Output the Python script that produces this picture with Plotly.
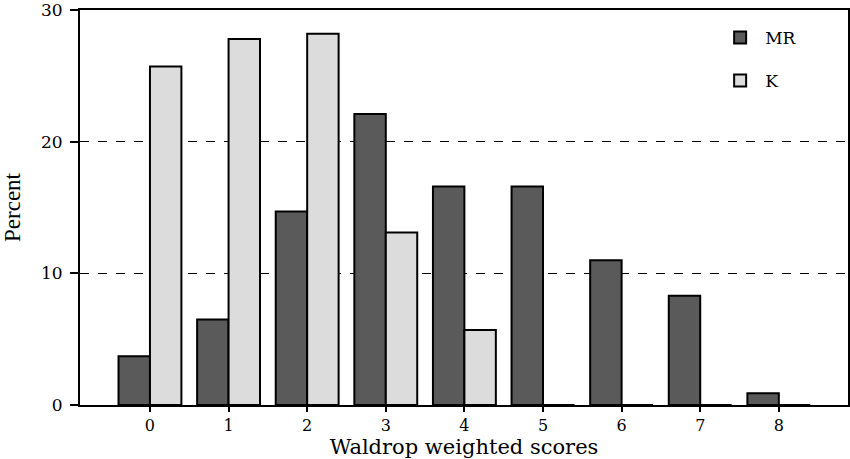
import plotly.graph_objects as go

categories = ["0", "1", "2", "3", "4", "5", "6", "7", "8"]
mr_values = [3.7, 6.5, 14.7, 22.1, 16.6, 16.6, 11.0, 8.3, 0.9]
k_values = [25.7, 27.8, 28.2, 13.1, 5.7, 0, 0, 0, 0]
y_ticks = [0, 10, 20, 30]

xs = list(range(len(categories)))
fig = go.Figure()
fig.add_trace(go.Bar(x=xs, y=mr_values, name="MR", legendgroup="mr",
                     marker=dict(color="#5a5a5a", line=dict(color="black", width=2))))
fig.add_trace(go.Bar(x=xs, y=k_values, name="K", legendgroup="k",
                     marker=dict(color="#dcdcdc", line=dict(color="black", width=2))))

serif = "Liberation Serif, Times New Roman, serif"
wide = "DejaVu Serif, serif"
fig.update_layout(
    width=850, height=459,
    margin=dict(l=80, r=2, t=10, b=54),
    plot_bgcolor="white", paper_bgcolor="white",
    barmode="group", bargap=0.2, bargroupgap=0,
    font=dict(family=wide, color="black", size=16),
    showlegend=True,
    legend=dict(x=0.827, y=0.975, xanchor="left", yanchor="top",
                font=dict(family=wide, size=17), bgcolor="rgba(0,0,0,0)",
                tracegroupgap=18, traceorder="grouped", itemwidth=40),
    xaxis=dict(range=[-0.89, 8.88], tickmode="array", tickvals=xs, ticktext=categories,
               showgrid=False, zeroline=False, showline=True, linecolor="black", linewidth=2,
               mirror=True, ticks="outside", ticklen=5, tickwidth=1.5, tickcolor="black",
               title=dict(text="Waldrop weighted scores", font=dict(family=wide, size=21), standoff=7),
               tickfont=dict(family=wide, size=16), automargin=False),
    yaxis=dict(range=[0, 30], tickvals=y_ticks, showgrid=True, gridcolor="black",
               griddash="dash", gridwidth=1, zeroline=False, showline=True,
               linecolor="black", linewidth=2, mirror=True, ticks="outside", ticklen=8,
               tickwidth=1.5, tickcolor="black", tickfont=dict(family=wide, size=17),
               ticklabeloverflow="allow", ticklabelstandoff=4,
               title=dict(text="Percent", font=dict(family=serif, size=23), standoff=22),
               automargin=False),
)
fig.write_html("out.html", config={"displayModeBar": False},
               post_script="document.body.style.margin='0';document.body.style.overflow='hidden';")
